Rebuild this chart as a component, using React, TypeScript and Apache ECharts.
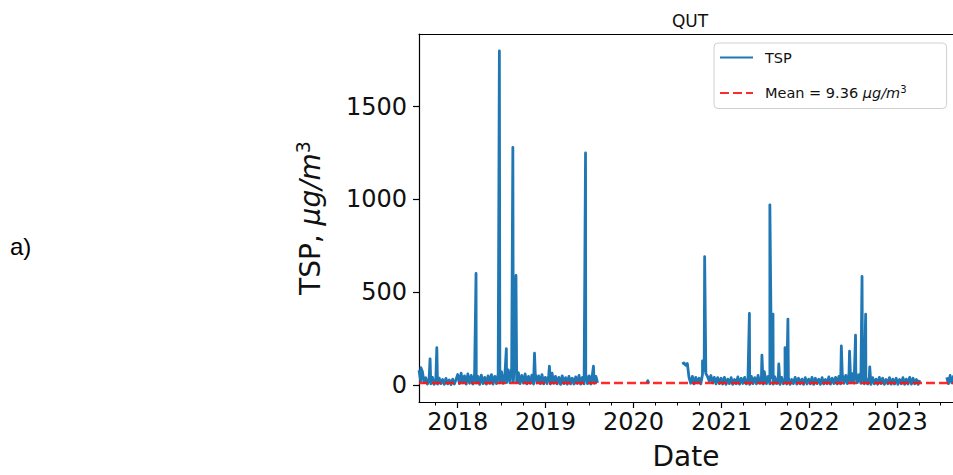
import { useEffect, useRef } from 'react';
import * as echarts from 'echarts';

// Station and summary statistic
const STATION = 'QUT';
const MEAN_TSP = 9.36;

// Axis extents and tick positions
const X_START = '2017-07-24';
const X_END = '2023-08-21';
const YEAR_TICKS = ['2018-01-01', '2019-01-01', '2020-01-01', '2021-01-01', '2022-01-01', '2023-01-01'];
const QUARTER_TICKS = [
  '2017-10-01',
  '2018-04-01', '2018-07-01', '2018-10-01',
  '2019-04-01', '2019-07-01', '2019-10-01',
  '2020-04-01', '2020-07-01', '2020-10-01',
  '2021-04-01', '2021-07-01', '2021-10-01',
  '2022-04-01', '2022-07-01', '2022-10-01',
  '2023-04-01', '2023-07-01',
];
const Y_MIN = -93;
const Y_MAX = 1891;
const Y_TICKS = [0, 500, 1000, 1500];

// Weekly background TSP (µg/m³), first campaign: 2017-07-24 .. 2019-08-05
const WEEKLY_A_START = '2017-07-24';
const WEEKLY_A = [
  // 2017
  78, 20, 72, 12, 38, 3, 32, 5, 40, 2, 30, 4, 36, 6, 28, 2, 34, 5, 26, 1, 30, 4, 28,
  // 2018
  55, 6, 62, 10, 48, 3, 58, 8, 50, 4, 56, 9, 45, 2, 52, 6, 40, 3, 48, 7, 55, 4, 45, 6, 60, 10,
  70, 8, 55, 12, 80, 10, 90, 15, 70, 12, 65, 6, 50, 9, 58, 5, 45, 8, 52, 4, 62, 10, 48, 6, 55, 5,
  // 2019
  40, 6, 50, 4, 62, 8, 45, 5, 40, 2, 48, 6, 38, 3, 45, 5, 35, 4, 42, 7, 50, 3, 40, 5, 55, 6,
  48, 4, 60, 8, 45, 10,
];

// Short record in early 2020
const SHORT_RUN_2020: [string, number][] = [
  ['2020-02-26', 10],
  ['2020-03-01', 22],
  ['2020-03-05', 6],
];

// Weekly background TSP, second campaign: 2020-07-22 .. 2023-04-05
const WEEKLY_B_START = '2020-07-22';
const WEEKLY_B = [
  // 2020
  112, 118, 105, 115, 40, 8, 45, 5, 40, 10, 35, 5, 55, 75, 60, 45, 20, 50, 10, 40, 5, 38, 6,
  // 2021
  35, 4, 40, 2, 30, 6, 38, 2, 28, 5, 42, 3, 35, 7, 40, 4, 30, 2, 45, 6, 38, 5, 50, 8, 40, 4,
  55, 6, 45, 5, 38, 3, 42, 6, 35, 2, 40, 5, 30, 4, 38, 2, 28, 6, 40, 3, 35, 5, 30, 2, 38, 4,
  // 2022
  30, 5, 40, 2, 35, 6, 30, 2, 38, 4, 28, 5, 42, 3, 35, 6, 40, 4, 45, 5, 55, 8, 50, 6, 65, 10,
  60, 9, 70, 12, 55, 8, 50, 5, 40, 4, 35, 2, 38, 5, 30, 3, 40, 6, 35, 2, 28, 5, 38, 3, 30, 4,
  // 2023
  35, 2, 28, 5, 38, 2, 30, 4, 40, 3, 35, 5, 28, 2, 25,
];

// Weekly background TSP, third campaign: 2023-07-26 onwards
const WEEKLY_C_START = '2023-07-26';
const WEEKLY_C = [40, 6, 50, 10, 45, 5];

// Dust events (daily peaks, µg/m³)
const EVENT_PEAKS: [string, number][] = [
  ['2017-08-01', 92],
  ['2017-09-08', 140],
  ['2017-10-06', 200],
  ['2018-03-18', 600],
  ['2018-06-23', 1800],
  ['2018-07-22', 195],
  ['2018-08-18', 1280],
  ['2018-08-24', 110],
  ['2018-08-31', 590],
  ['2018-11-16', 170],
  ['2019-01-17', 100],
  ['2019-06-16', 1250],
  ['2019-07-19', 100],
  ['2020-10-14', 128],
  ['2020-10-23', 690],
  ['2021-04-27', 385],
  ['2021-06-18', 160],
  ['2021-06-28', 70],
  ['2021-07-21', 970],
  ['2021-08-03', 380],
  ['2021-08-27', 112],
  ['2021-09-22', 200],
  ['2021-10-04', 354],
  ['2022-05-14', 209],
  ['2022-06-17', 181],
  ['2022-07-12', 267],
  ['2022-08-08', 584],
  ['2022-08-23', 380],
  ['2022-09-09', 96],
];

// Dates with no measurements (break the line)
const DATA_GAPS = ['2019-08-12', '2020-04-01', '2023-05-15'];

const WEEK = 7 * 86400000;
const toTime = (s: string) => {
  const [y, m, d] = s.split('-').map(Number);
  return new Date(y, m - 1, d).getTime();
};
const weekly = (start: string, values: number[]) =>
  values.map((v, i) => [toTime(start) + i * WEEK, v] as [number, number | null]);

function buildTspSeries(): [number, number | null][] {
  const pts: [number, number | null][] = [
    ...weekly(WEEKLY_A_START, WEEKLY_A),
    ...SHORT_RUN_2020.map(([d, v]) => [toTime(d), v] as [number, number | null]),
    ...weekly(WEEKLY_B_START, WEEKLY_B),
    ...weekly(WEEKLY_C_START, WEEKLY_C),
    ...EVENT_PEAKS.map(([d, v]) => [toTime(d), v] as [number, number | null]),
    ...DATA_GAPS.map((d) => [toTime(d), null] as [number, number | null]),
  ];
  return pts.sort((a, b) => a[0] - b[0]);
}

const MEAN_NAME = `Mean = ${MEAN_TSP} μg/m³`;
const FONT = 'DejaVu Sans';
const INK = '#111';
const SPINE = { color: '#000', width: 1.2 };

export default function App() {
  const ref = useRef<HTMLDivElement>(null);

  useEffect(() => {
    document.body.style.margin = '0';
    if (!ref.current) return;
    const chart = echarts.init(ref.current, undefined, { renderer: 'svg' });
    const xMin = toTime(X_START);
    const xMax = toTime(X_END);

    chart.setOption({
      animation: false,
      backgroundColor: '#fff',
      grid: {
        left: 419,
        top: 34,
        bottom: 71,
        right: 0,
        show: false,
      },
      legend: {
        orient: 'vertical',
        left: 714,
        top: 43,
        itemWidth: 33,
        itemHeight: 14,
        itemGap: 19,
        padding: [7, 40, 8, 5],
        backgroundColor: 'rgba(255,255,255,0.85)',
        borderColor: '#d0d0d0',
        borderWidth: 1,
        borderRadius: 4,
        itemStyle: { opacity: 0 },
        data: ['TSP', MEAN_NAME],
        textStyle: {
          fontFamily: FONT,
          fontSize: 14.5,
          color: INK,
          rich: {
            n: { fontFamily: FONT, fontSize: 14.5, color: INK, padding: [0, 0, 0, 7], lineHeight: 18 },
            u: { fontFamily: FONT, fontSize: 14.5, color: INK, fontStyle: 'italic', lineHeight: 18 },
            s: { fontFamily: FONT, fontSize: 10, color: INK, verticalAlign: 'top', lineHeight: 12 },
          },
        },
        formatter: (name: string) =>
          name === 'TSP' ? '{n|TSP}' : `{n|Mean = ${MEAN_TSP} }{u|μg/m}{s|3}`,
      },
      xAxis: [
        {
          type: 'value',
          min: xMin,
          max: xMax,
          name: 'Date',
          nameLocation: 'middle',
          nameGap: 40,
          nameTextStyle: { fontFamily: FONT, fontSize: 28, color: INK },
          axisLine: { show: true, onZero: false, lineStyle: SPINE },
          axisTick: {
            show: true,
            customValues: YEAR_TICKS.map(toTime),
            length: 6,
            lineStyle: SPINE,
          },
          axisLabel: {
            customValues: YEAR_TICKS.map(toTime),
            formatter: (v: number) => String(new Date(v).getFullYear()),
            fontFamily: FONT,
            fontSize: 24,
            color: INK,
            margin: 8,
          },
          splitLine: { show: false },
        },
        {
          // quarterly minor ticks
          type: 'value',
          min: xMin,
          max: xMax,
          position: 'bottom',
          axisLine: { show: false, onZero: false },
          axisTick: {
            show: true,
            customValues: QUARTER_TICKS.map(toTime),
            length: 3.5,
            lineStyle: { color: '#000', width: 1 },
          },
          axisLabel: { show: false },
          splitLine: { show: false },
        },
        {
          // top frame line
          type: 'value',
          min: xMin,
          max: xMax,
          position: 'top',
          axisLine: { show: true, onZero: false, lineStyle: SPINE },
          axisTick: { show: false },
          axisLabel: { show: false },
          splitLine: { show: false },
        },
      ],
      yAxis: {
        type: 'value',
        min: Y_MIN,
        max: Y_MAX,
        name: '{t|TSP, }{u|μg/m}{s|3}',
        nameLocation: 'middle',
        nameGap: 92,
        nameTextStyle: {
          fontFamily: FONT,
          fontSize: 28,
          color: INK,
          rich: {
            t: { fontFamily: FONT, fontSize: 28, color: INK, lineHeight: 34 },
            u: { fontFamily: FONT, fontSize: 28, color: INK, fontStyle: 'italic', lineHeight: 34 },
            s: { fontFamily: FONT, fontSize: 19, color: INK, verticalAlign: 'top', lineHeight: 24 },
          },
        },
        axisLine: { show: true, onZero: false, lineStyle: SPINE },
        axisTick: {
          show: true,
          customValues: Y_TICKS,
          length: 6,
          lineStyle: SPINE,
        },
        axisLabel: {
          customValues: Y_TICKS,
          formatter: (v: number) => String(v),
          fontFamily: FONT,
          fontSize: 24,
          color: INK,
          margin: 12,
        },
        splitLine: { show: false },
      },
      series: [
        {
          name: 'TSP',
          type: 'line',
          data: buildTspSeries(),
          showSymbol: false,
          symbol: 'none',
          connectNulls: false,
          silent: true,
          color: '#1f77b4',
          lineStyle: { color: '#1f77b4', width: 2.8, join: 'round' },
          z: 2,
        },
        {
          name: MEAN_NAME,
          type: 'line',
          data: [
            [xMin, MEAN_TSP],
            [xMax, MEAN_TSP],
          ],
          showSymbol: false,
          symbol: 'none',
          silent: true,
          color: 'rgba(255,20,20,0.9)',
          lineStyle: { color: 'rgba(255,20,20,0.9)', width: 2.6, type: [9, 4] },
          z: 3,
        },
      ],
      graphic: [
        {
          type: 'text',
          x: 690,
          y: 21,
          style: {
            text: STATION,
            align: 'center',
            verticalAlign: 'middle',
            fontFamily: FONT,
            fontSize: 17,
            fill: INK,
          },
        },
        {
          type: 'text',
          x: 10,
          y: 246,
          style: {
            text: 'a)',
            align: 'left',
            verticalAlign: 'middle',
            fontFamily: 'Liberation Sans',
            fontSize: 24,
            fill: '#000',
          },
        },
      ],
    });

    return () => chart.dispose();
  }, []);

  return <div ref={ref} style={{ width: 953, height: 475 }} />;
}
